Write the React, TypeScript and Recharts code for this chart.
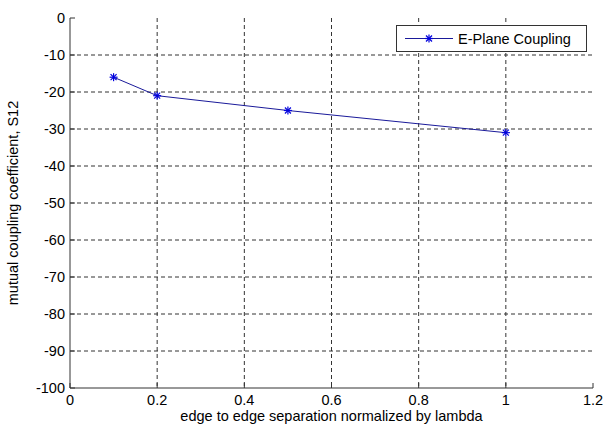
import { LineChart, Line, XAxis, YAxis, CartesianGrid } from 'recharts'

// edge-to-edge separation (normalized by lambda) and measured S12 in dB
const separation = [0.1, 0.2, 0.5, 1.0]
const couplingDb = [-16, -21, -25, -31]
const seriesName = 'E-Plane Coupling'

const xTicks = [0, 0.2, 0.4, 0.6, 0.8, 1, 1.2]
const yTicks = [-100, -90, -80, -70, -60, -50, -40, -30, -20, -10, 0]

const data = separation.map((x, i) => ({ x, s12: couplingDb[i] }))

const font = 'Arial, "Liberation Sans", Helvetica, sans-serif'
const fontSize = 14.5
const axisColor = '#333'
const lineColor = '#1a1a9a'
const markerColor = '#0000dd'

function Asterisk(props: any) {
    const { cx, cy } = props
    if (cx == null || cy == null) return null
    const r = 4
    const d = 3
    return (
        <g key={`m-${cx}-${cy}`} stroke={markerColor} strokeWidth={1.2}>
            <line x1={cx - r} y1={cy} x2={cx + r} y2={cy} />
            <line x1={cx} y1={cy - r} x2={cx} y2={cy + r} />
            <line x1={cx - d} y1={cy - d} x2={cx + d} y2={cy + d} />
            <line x1={cx - d} y1={cy + d} x2={cx + d} y2={cy - d} />
        </g>
    )
}

// MATLAB-style legend box, laid over the plot's top right corner
function LegendBox() {
    return (
        <div
            style={{
                position: 'absolute',
                left: 396,
                top: 25,
                width: 189,
                height: 25,
                border: `1px solid ${axisColor}`,
                background: '#fff',
                display: 'flex',
                alignItems: 'center',
                fontFamily: font,
                fontSize,
                color: '#000',
            }}
        >
            <svg width={61} height={25}>
                <line x1={8} y1={12.5} x2={56} y2={12.5} stroke={lineColor} strokeWidth={1} />
                <Asterisk cx={32} cy={12.5} />
            </svg>
            <span>{seriesName}</span>
        </div>
    )
}

export default function App() {
    const tickStyle = { fontFamily: font, fontSize, fill: '#000' }
    return (
        <div style={{ position: 'absolute', left: 0, top: 0, width: 606, height: 428, background: '#fff' }}>
            <LineChart
                width={606}
                height={428}
                data={data}
                margin={{ top: 18, right: 13, bottom: 0, left: 0 }}
            >
                <CartesianGrid
                    stroke={axisColor}
                    strokeDasharray="4 3"
                    horizontalValues={yTicks.slice(1, -1)}
                    verticalValues={xTicks.slice(1, -1)}
                />
                <XAxis
                    dataKey="x"
                    type="number"
                    domain={[0, 1.2]}
                    ticks={xTicks}
                    height={40}
                    stroke={axisColor}
                    tickSize={-5}
                    tickMargin={12}
                    tick={tickStyle}
                    label={{
                        value: 'edge to edge separation normalized by lambda',
                        position: 'insideBottom',
                        offset: 7,
                        style: { fontFamily: font, fontSize, fill: '#000' },
                    }}
                />
                <XAxis
                    xAxisId="top"
                    orientation="top"
                    dataKey="x"
                    type="number"
                    domain={[0, 1.2]}
                    ticks={xTicks}
                    height={0}
                    stroke={axisColor}
                    tickSize={-5}
                    tickFormatter={() => ''}
                />
                <YAxis
                    type="number"
                    domain={[-100, 0]}
                    ticks={yTicks}
                    width={70}
                    stroke={axisColor}
                    tickSize={-5}
                    tickMargin={10}
                    tick={tickStyle}
                    label={{
                        value: 'mutual coupling coefficient, S12',
                        angle: -90,
                        position: 'insideLeft',
                        offset: 13,
                        style: { fontFamily: font, fontSize, fill: '#000', textAnchor: 'middle' },
                    }}
                />
                <YAxis
                    yAxisId="right"
                    orientation="right"
                    type="number"
                    domain={[-100, 0]}
                    ticks={yTicks}
                    width={0}
                    stroke={axisColor}
                    tickSize={-5}
                    tickFormatter={() => ''}
                />
                <Line
                    type="linear"
                    dataKey="s12"
                    name={seriesName}
                    stroke={lineColor}
                    strokeWidth={1}
                    dot={<Asterisk />}
                    activeDot={false}
                    isAnimationActive={false}
                />
            </LineChart>
            <LegendBox />
        </div>
    )
}
